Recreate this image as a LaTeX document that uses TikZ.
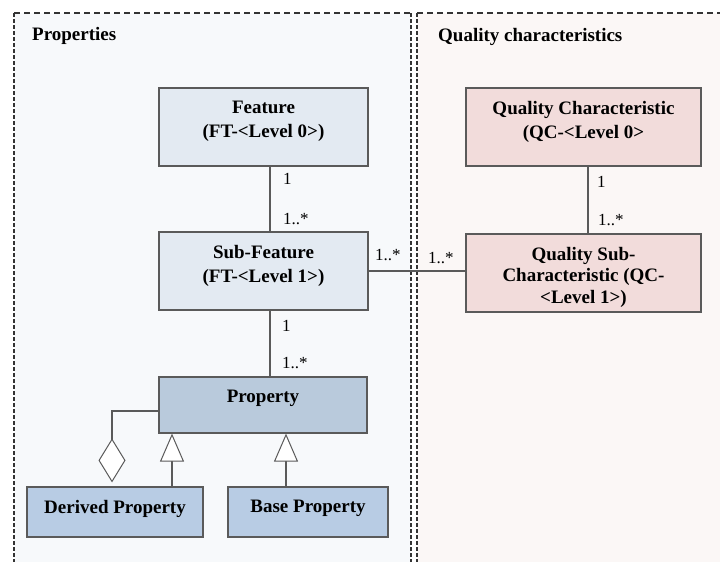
\documentclass[tikz,border=0pt]{standalone}
\usepackage{fontspec}
\setmainfont{Liberation Serif}
\usetikzlibrary{arrows.meta}

\definecolor{propbg}{HTML}{F7F9FB}
\definecolor{qualbg}{HTML}{FBF7F6}
\definecolor{featfill}{HTML}{E3EAF2}
\definecolor{qcfill}{HTML}{F2DCDB}
\definecolor{propfill}{HTML}{B9CADC}
\definecolor{leaffill}{HTML}{B8CCE4}
\definecolor{edgegray}{HTML}{5A5A5A}

\tikzset{
  box/.style={draw=edgegray, line width=1.2pt, inner sep=0pt},
  boxtext/.style={anchor=north, align=center, inner sep=0pt, yshift=-13.5pt,
    font=\fontsize{19}{24}\selectfont\bfseries},
  mult/.style={anchor=base west, inner sep=0pt, font=\fontsize{17}{20}\selectfont},
  paneltitle/.style={anchor=base west, inner sep=0pt, font=\fontsize{19}{24}\selectfont\bfseries},
  link/.style={draw=edgegray, line width=1.2pt},
  edgeh/.style={draw=black!80, line width=1.4pt, dash pattern=on 6pt off 4pt},
  edgev/.style={draw=black!80, line width=1.4pt, dash pattern=on 3.5pt off 2.5pt}
}

\begin{document}
\begin{tikzpicture}[x=1pt,y=-1pt]
  \useasboundingbox (0,0) rectangle (720,562);
  % panels
  \fill[propbg] (14,13) rectangle (411,562);
  \fill[qualbg] (417,13) rectangle (720,562);
  \draw[edgeh] (14,13) -- (411,13);
  \draw[edgeh] (417,13) -- (720,13);
  \draw[edgev] (14,13) -- (14,562);
  \draw[edgev] (411,13) -- (411,562);
  \draw[edgev] (417,13) -- (417,562);

  \node[paneltitle] (propT) at (32,40) {Properties};
  \node[paneltitle] (qualT) at (438,41) {Quality characteristics};

  % boxes
  \node[box, fill=featfill, minimum width=209pt, minimum height=78pt,
    label={[boxtext]north:{Feature\\(FT-<Level 0>)}}] (feat) at (263.5,127) {};
  \node[box, fill=featfill, minimum width=209pt, minimum height=78pt,
    label={[boxtext]north:{Sub-Feature\\(FT-<Level 1>)}}] (subf) at (263.5,271) {};
  \node[box, fill=propfill, minimum width=208pt, minimum height=56pt,
    label={[boxtext]north:{Property}}] (prop) at (263,405) {};
  \node[box, fill=leaffill, minimum width=176pt, minimum height=50pt,
    label={[boxtext]north:{Derived Property}}] (derv) at (115,512) {};
  \node[box, fill=leaffill, minimum width=160pt, minimum height=50pt,
    label={[boxtext]north:{Base Property}}] (base) at (308,512) {};
  \node[box, fill=qcfill, minimum width=235pt, minimum height=78pt,
    label={[boxtext]north:{Quality Characteristic\\(QC-<Level 0>}}] (qc) at (583.5,127) {};
  \node[box, fill=qcfill, minimum width=235pt, minimum height=78pt,
    label={[boxtext]north:{Quality Sub-\\[-2.5pt]Characteristic (QC-\\[-2.5pt]<Level 1>)}}] (qsub) at (583.5,273) {};

  % associations
  \draw[link] ([xshift=6.5pt]feat.south) -- ([xshift=6.5pt]subf.north);
  \draw[link] ([xshift=6.5pt]subf.south) -- ([xshift=7pt]prop.north);
  \draw[link] ([xshift=4.5pt]qc.south) -- ([xshift=4.5pt]qsub.north);
  \draw[link] (subf.east) -- (subf.east -| qsub.west);

  % aggregation and generalisation
  \draw[link, {Diamond[width=27pt,length=44pt,fill=white,line width=1pt]}-]
    ([xshift=-3pt,yshift=4pt]derv.north) |- ([yshift=-6pt]prop.west);
  \draw[link, -{Triangle[width=24pt,length=28pt,fill=white,line width=1pt]}]
    ([xshift=57pt]derv.north) -- ([xshift=-91pt]prop.south);
  \draw[link, -{Triangle[width=24pt,length=28pt,fill=white,line width=1pt]}]
    ([xshift=-22pt]base.north) -- ([xshift=23pt]prop.south);

  % multiplicities
  \node[mult] (mFeat) at (283,184) {1};
  \node[mult] (mSubfTop) at (283,224) {1..*};
  \node[mult] (mSubfBot) at (282,331) {1};
  \node[mult] (mProp) at (282,368) {1..*};
  \node[mult] (mSubfR) at (375,260) {1..*};
  \node[mult] (mQsubL) at (428,263) {1..*};
  \node[mult] (mQc) at (597,187) {1};
  \node[mult] (mQsubTop) at (598,225) {1..*};
\end{tikzpicture}
\end{document}
